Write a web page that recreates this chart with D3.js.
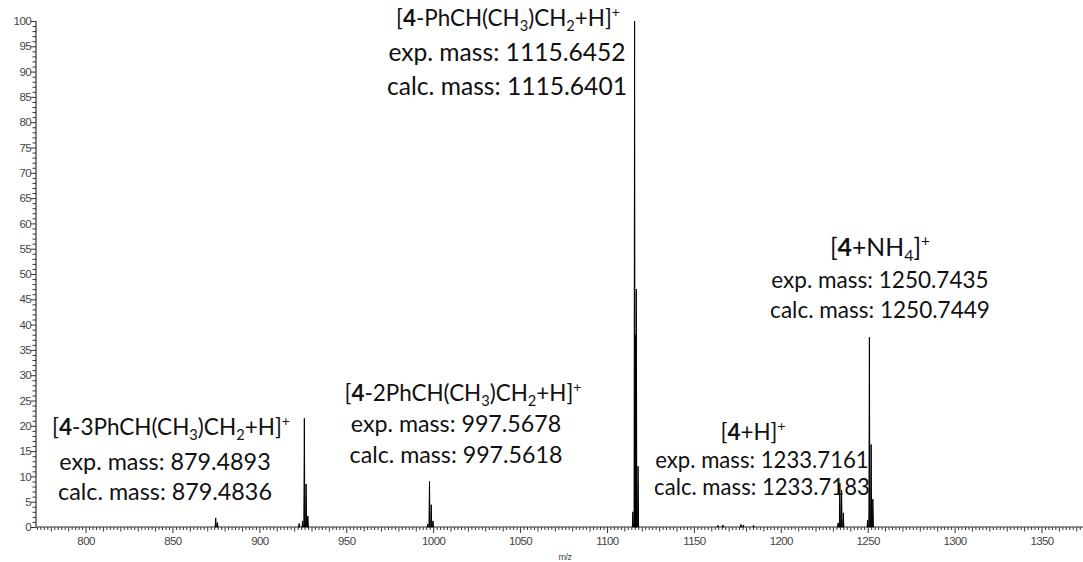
<!DOCTYPE html>
<html>
<head>
<meta charset="utf-8">
<script src="https://cdn.jsdelivr.net/npm/d3@7"></script>
<style>
  html, body { margin: 0; padding: 0; background: #fff; }
  svg { display: block; }
</style>
</head>
<body>
<svg id="chart" width="1083" height="562"></svg>
<script>
// Centroid peaks of the ESI mass spectrum (m/z, relative abundance %)
const peakMz = [
  874.6, 875.6,
  922.6, 924.6, 925.6, 926.6, 927.6,
  996.6, 997.6, 998.6, 999.6,
  1114.6, 1115.6, 1116.2, 1116.6, 1117.6,
  1163.5, 1166.4, 1176.8, 1178.2, 1184.1,
  1232.7, 1233.7, 1234.7, 1235.7,
  1249.7, 1250.7, 1251.7, 1252.7
];
const peakIntensity = [
  1.8, 0.9,
  0.7, 1.2, 21.5, 8.5, 2.2,
  0.6, 9.0, 4.4, 1.2,
  3.0, 100, 38, 47, 12,
  0.3, 0.4, 0.5, 0.4, 0.3,
  0.8, 8.7, 7.3, 2.8,
  1.4, 37.5, 16.3, 5.5
];

const xTickValues = [800, 850, 900, 950, 1000, 1050, 1100, 1150, 1200, 1250, 1300, 1350];
const yTickValues = d3.range(0, 101, 5);

// Ion assignments, experimental and calculated masses
const ionNames = [
  [{t: "["}, {t: "4", b: true}, {t: "-PhCH(CH"}, {t: "3", sub: true}, {t: ")CH"}, {t: "2", sub: true}, {t: "+H]"}, {t: "+", sup: true}],
  [{t: "["}, {t: "4", b: true}, {t: "+NH"}, {t: "4", sub: true}, {t: "]"}, {t: "+", sup: true}],
  [{t: "["}, {t: "4", b: true}, {t: "-2PhCH(CH"}, {t: "3", sub: true}, {t: ")CH"}, {t: "2", sub: true}, {t: "+H]"}, {t: "+", sup: true}],
  [{t: "["}, {t: "4", b: true}, {t: "-3PhCH(CH"}, {t: "3", sub: true}, {t: ")CH"}, {t: "2", sub: true}, {t: "+H]"}, {t: "+", sup: true}],
  [{t: "["}, {t: "4", b: true}, {t: "+H]"}, {t: "+", sup: true}]
];
const expMass = ["1115.6452", "1250.7435", "997.5678", "879.4893", "1233.7161"];
const calcMass = ["1115.6401", "1250.7449", "997.5618", "879.4836", "1233.7183"];

// Placement of each annotation block
const blockLayout = [
  {cxTitle: 508, cx: 507, cy: [18, 52, 86], width: 240, titleWidth: 224},
  {cxTitle: 880, cx: 880, cy: [247, 280, 310], width: 220, titleWidth: 100},
  {cxTitle: 463, cx: 456, cy: [393, 424, 455], width: 213, titleWidth: 237},
  {cxTitle: 171, cx: 165, cy: [427, 462, 492], width: 214, titleWidth: 238},
  {cxTitle: 753, cx: 762, cy: [432, 460, 487], width: 216, titleWidth: 65}
];

const svg = d3.select("#chart");
const axisFont = "'Liberation Sans', Arial, sans-serif";
const labelFont = "Lato, 'Open Sans', sans-serif";

const x = d3.scaleLinear().domain([771.2, 1373.6]).range([36, 1083]);
const y = d3.scaleLinear().domain([0, 100]).range([527, 21]);

// ---- y axis ----
const yAxis = svg.append("g").attr("transform", `translate(${x.range()[0]},0)`);
yAxis.append("line")
  .attr("x1", 0).attr("x2", 0).attr("y1", y(0)).attr("y2", y(100))
  .attr("stroke", "#333").attr("stroke-width", 1.2);
yAxis.selectAll("line.minor").data(d3.range(0, 101, 1)).join("line")
  .attr("class", "minor")
  .attr("x1", 0).attr("x2", d => d % 5 === 0 ? -5 : -3.5)
  .attr("y1", d => y(d) + 0.5).attr("y2", d => y(d) + 0.5)
  .attr("stroke", "#333").attr("stroke-width", 1);
yAxis.selectAll("text").data(yTickValues).join("text")
  .attr("x", -5).attr("y", d => y(d))
  .attr("dy", "0.36em")
  .attr("text-anchor", "end")
  .attr("font-family", axisFont).attr("font-size", 11.5)
  .attr("fill", "#444")
  .attr("letter-spacing", -0.6)
  .text(d => d);

// ---- x axis ----
const xAxis = svg.append("g").attr("transform", `translate(0,${y(0)})`);
xAxis.append("line")
  .attr("x1", x.range()[0]).attr("x2", x.range()[1]).attr("y1", 0).attr("y2", 0)
  .attr("stroke", "#333").attr("stroke-width", 1.2);
xAxis.selectAll("line.minor").data(d3.range(772, 1374, 2)).join("line")
  .attr("class", "minor")
  .attr("x1", d => x(d)).attr("x2", d => x(d))
  .attr("y1", 0).attr("y2", d => d % 50 === 0 ? 6 : (d % 10 === 0 ? 4.5 : 3))
  .attr("stroke", "#333").attr("stroke-width", 1);
xAxis.selectAll("text").data(xTickValues).join("text")
  .attr("x", d => x(d)).attr("y", 14)
  .attr("dy", "0.36em")
  .attr("text-anchor", "middle")
  .attr("font-family", axisFont).attr("font-size", 11.5)
  .attr("fill", "#444")
  .attr("letter-spacing", -0.6)
  .text(d => d);
svg.append("text")
  .attr("x", 565).attr("y", 557)
  .attr("dy", "0.36em")
  .attr("text-anchor", "middle")
  .attr("font-family", axisFont).attr("font-size", 9)
  .attr("fill", "#444")
  .attr("letter-spacing", -0.5)
  .text("m/z");

// ---- spectrum peaks ----
const peaks = peakMz.map((m, i) => ({m, v: peakIntensity[i]}));
const halfWidth = 0.3;
svg.append("g").selectAll("path").data(peaks).join("path")
  .attr("d", d => `M${x(d.m - halfWidth)},${y(0)}L${x(d.m)},${y(d.v)}L${x(d.m + halfWidth)},${y(0)}Z`)
  .attr("fill", "#000")
  .attr("stroke", "#000")
  .attr("stroke-width", 1)
  .attr("stroke-linejoin", "miter");

// ---- annotations ----
// font size that makes a text run span the given width
function fitSize(build, target) {
  const probe = svg.append("text")
    .attr("font-family", labelFont).attr("font-size", 20);
  build(probe, 20);
  const w = probe.node().getBBox().width;
  probe.remove();
  return 20 * target / w;
}

// writes an ion formula with bold, subscript and superscript runs
function writeFormula(textSel, parts, fs) {
  let shift = 0;
  parts.forEach(part => {
    let dy = 0;
    if (part.sub) dy = fs * 0.22;
    if (part.sup) dy = -fs * 0.42;
    const ts = textSel.append("tspan").text(part.t).attr("dy", dy - shift);
    shift = dy;
    if (part.b) ts.attr("font-weight", "bold");
    if (part.sub) ts.attr("font-size", fs * 0.65);
    if (part.sup) ts.attr("font-size", fs * 0.62);
  });
}

blockLayout.forEach((L, i) => {
  const calcLine = "calc. mass: " + calcMass[i];
  const fs = fitSize(t => t.text(calcLine), L.width);
  const tfs = fitSize((t, s) => writeFormula(t, ionNames[i], s), L.titleWidth);
  const g = svg.append("g")
    .attr("font-family", labelFont).attr("fill", "#111");

  const title = g.append("text")
    .attr("font-size", tfs)
    .attr("x", L.cxTitle).attr("y", L.cy[0] + tfs * 0.36)
    .attr("text-anchor", "middle");
  writeFormula(title, ionNames[i], tfs);

  g.append("text")
    .attr("font-size", fs)
    .attr("x", L.cx).attr("y", L.cy[1] + fs * 0.36)
    .attr("text-anchor", "middle")
    .text("exp. mass: " + expMass[i]);
  g.append("text")
    .attr("font-size", fs)
    .attr("x", L.cx).attr("y", L.cy[2] + fs * 0.36)
    .attr("text-anchor", "middle")
    .text(calcLine);
});
</script>
</body>
</html>
